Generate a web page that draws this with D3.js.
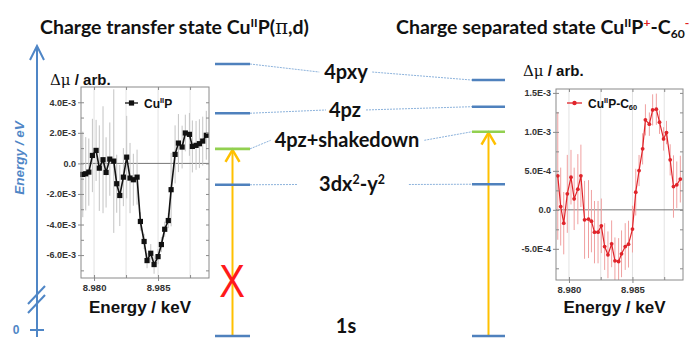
<html>
<head>
<meta charset="utf-8">
<script src="https://d3js.org/d3.v7.min.js"></script>
<style>
  body { margin: 0; background: #fff; }
  svg { display: block; }
  .tick-lab { font-family: "Liberation Sans", Arial, sans-serif; font-size: 9px; font-weight: bold; fill: #333; }
  .ttl { font-family: Lato, "Open Sans", sans-serif; font-weight: 700; fill: #111; }
  .lvl { font-family: Lato, "Open Sans", sans-serif; font-weight: 700; fill: #111; }
  .arial { font-family: "Liberation Sans", Arial, sans-serif; font-weight: bold; fill: #111; }
</style>
</head>
<body>
<script>

// ---- data ----
var energy = [8.97912, 8.97935, 8.97959, 8.97987, 8.98016, 8.98041, 8.98070, 8.98094, 8.98123, 8.98154,
              8.98177, 8.98201, 8.98229, 8.98255, 8.98281, 8.98307, 8.98336, 8.98362, 8.98391, 8.98414,
              8.98443, 8.98469, 8.98500, 8.98526, 8.98552, 8.98580, 8.98602, 8.98633, 8.98659, 8.98688,
              8.98713, 8.98745, 8.98768, 8.98797, 8.98823, 8.98849, 8.98877];

// Cu(II)P, units of 1e-3
var cuP = [-0.72, -0.68, -0.57, 0.52, 0.85, -0.31, 0.24, -0.59, 0.28, 0.15,
           -1.33, -2.10, -0.90, 0.41, -0.96, -1.07, -0.90, -3.80, -5.11, -6.36,
           -5.88, -6.62, -6.10, -5.31, -4.31, -3.74, -1.72, 0.59, 1.33, 1.07,
           1.99, 1.90, 1.11, 1.18, 1.29, 1.46, 1.84];
var cuPErr = [2.8, 2.4, 2.2, 2.4, 2.0, 2.8, 3.5, 2.3, 2.4, 4.7,
              1.9, 2.0, 1.9, 2.7, 2.3, 1.7, 1.8, 0.6, 0.5, 0.5,
              0.6, 0.6, 0.5, 0.5, 0.5, 0.5, 2.4, 1.9, 1.9, 1.4,
              1.2, 1.4, 1.7, 1.6, 1.6, 1.6, 1.6];

// Cu(II)P-C60, units of 1e-4
var cuPC60 = [4.36, 0.42, -1.71, 2.05, 4.19, 1.41, 2.65, 4.36, -1.28, -1.19,
              -1.45, -2.86, -2.86, -2.05, -4.71, -5.77, -4.36, -6.54, -6.63, -5.64,
              -4.71, -4.40, -2.47, 2.27, 5.04, 7.82, 11.54, 10.99, 12.82, 12.91,
              11.24, 9.10, 9.91, 6.41, 2.99, 3.21, 3.94];
var cuPC60Err = [8.2, 5, 4, 5, 3.5, 4, 4.5, 4, 5, 5,
                 4, 4, 4, 3.5, 3, 3, 3, 3, 3, 3,
                 3, 3, 3, 3, 2, 2, 2, 1.5, 2, 2,
                 1.5, 1.5, 1.5, 2, 4, 3, 3];

var xTicks = [8.980, 8.985];
var xTickLabels = ["8.980", "8.985"];
var xGrid = [8.980, 8.9825, 8.985, 8.9875];

var yTicksL = [-6e-3, -4e-3, -2e-3, 0, 2e-3, 4e-3];
var yTickLabelsL = ["-6.0E-3", "-4.0E-3", "-2.0E-3", "0.0", "2.0E-3", "4.0E-3"];
var yTicksR = [-5e-4, 0, 5e-4, 1e-3, 1.5e-3];
var yTickLabelsR = ["-5.0E-4", "0.0", "5.0E-4", "1.0E-3", "1.5E-3"];

// energy level diagram (arbitrary units, 1s = 0)
var levelNames = ["4pxy", "4pz", "4pz+shakedown", "3dx2-y2", "1s"];
var levelCT = [100, 81.9, 68.8, 55.6, 0];   // charge transfer state
var levelCS = [94.1, 84.3, 75.1, 55.8, 0];  // charge separated state
var levelColor = ["#4f81bd", "#4f81bd", "#92d050", "#4f81bd", "#4f81bd"];

// ---- drawing ----
var W = 692, H = 338;
var svg = d3.select("body").append("svg").attr("width", W).attr("height", H);

function rich(sel, parts, size) {
  parts.forEach(function(p) {
    var t = sel.append("tspan").text(p.t);
    if (p.sup) t.attr("font-size", size * 0.62).attr("dy", -size * 0.38);
    else if (p.sub) t.attr("font-size", size * 0.62).attr("dy", size * 0.2);
    if (p.after) t.attr("dy", p.after);
    if (p.fill) t.attr("fill", p.fill);
    if (p.font) t.attr("font-family", p.font).attr("font-weight", p.weight || "bold");
  });
}

// titles
var fs = 19.5;
var t1 = svg.append("text").attr("class", "ttl").attr("x", 40).attr("y", 34).attr("font-size", fs);
rich(t1, [{t: "Charge transfer state Cu"}, {t: "II", sup: true}, {t: "P(", after: fs * 0.38},
          {t: "\u03c0", font: "DejaVu Serif", weight: "normal"}, {t: ",d)"}], fs);
var t2 = svg.append("text").attr("class", "ttl").attr("x", 396).attr("y", 34).attr("font-size", fs);
rich(t2, [{t: "Charge separated state Cu"}, {t: "II", sup: true}, {t: "P", after: fs * 0.38},
          {t: "+", sup: true, fill: "#e02020"}, {t: "-C", after: fs * 0.38}, {t: "60", sub: true},
          {t: "-", sup: true, fill: "#e02020", after: -fs * 0.58}], fs);

// ---- energy axis on the far left ----
var axisBlue = "#4f86c6";
var ax = svg.append("g").attr("stroke", axisBlue).attr("stroke-width", 2).attr("fill", "none");
ax.append("line").attr("x1", 37).attr("x2", 37).attr("y1", 46).attr("y2", 337);
ax.append("path").attr("d", "M30,60 L37,46 L44,60");
ax.append("line").attr("x1", 30).attr("x2", 44).attr("y1", 330).attr("y2", 330);
ax.append("line").attr("x1", 28).attr("x2", 45).attr("y1", 304).attr("y2", 286);
ax.append("line").attr("x1", 28).attr("x2", 45).attr("y1", 313).attr("y2", 295);
svg.append("text").attr("x", 16).attr("y", 334).attr("text-anchor", "middle")
  .attr("font-family", "Liberation Sans").attr("font-weight", "bold").attr("font-size", 12)
  .attr("fill", axisBlue).text("0");
svg.append("text").attr("transform", "translate(24,158) rotate(-90)").attr("text-anchor", "middle")
  .attr("font-family", "Liberation Sans").attr("font-weight", "bold").attr("font-style", "italic")
  .attr("font-size", 13.5).attr("fill", axisBlue).text("Energy / eV");

// ---- spectrum panels ----
function panel(opt) {
  var x = d3.scaleLinear().domain([8.97898, 8.98898]).range([opt.x0, opt.x1]);
  var y = d3.scaleLinear().domain(opt.yDomain).range([opt.y1, opt.y0]);
  var g = svg.append("g");

  g.selectAll(".grid").data(xGrid).enter().append("line")
    .attr("x1", d => x(d)).attr("x2", d => x(d)).attr("y1", opt.y0).attr("y2", opt.y1)
    .attr("stroke", "#e2e2e2").attr("stroke-width", 1);

  g.append("line").attr("x1", opt.x0).attr("x2", opt.x1).attr("y1", y(0)).attr("y2", y(0))
    .attr("stroke", "#777").attr("stroke-width", 1);

  // error bars
  var pts = energy.map(function(e, i) {
    return {e: e, v: opt.values[i] * opt.unit, err: opt.errs[i] * opt.unit};
  });
  g.selectAll(".eb").data(pts).enter().append("line")
    .attr("x1", d => x(d.e)).attr("x2", d => x(d.e))
    .attr("y1", d => Math.max(opt.y0, y(d.v + d.err)))
    .attr("y2", d => Math.min(opt.y1, y(d.v - d.err)))
    .attr("stroke", opt.errColor).attr("stroke-width", 1);

  g.append("path").datum(pts)
    .attr("d", d3.line().x(d => x(d.e)).y(d => y(d.v)))
    .attr("fill", "none").attr("stroke", opt.color).attr("stroke-width", opt.lineW);

  if (opt.square) {
    g.selectAll(".mk").data(pts).enter().append("rect")
      .attr("x", d => x(d.e) - 2.6).attr("y", d => y(d.v) - 2.6)
      .attr("width", 5.2).attr("height", 5.2).attr("fill", opt.color);
  } else {
    g.selectAll(".mk").data(pts).enter().append("circle")
      .attr("cx", d => x(d.e)).attr("cy", d => y(d.v)).attr("r", 1.9).attr("fill", opt.color);
  }

  // frame
  g.append("rect").attr("x", opt.x0).attr("y", opt.y0)
    .attr("width", opt.x1 - opt.x0).attr("height", opt.y1 - opt.y0)
    .attr("fill", "none").attr("stroke", "#8a8a8a").attr("stroke-width", 1);

  // axes
  var ya = d3.axisLeft(y).tickValues(opt.yTicks).tickSize(3).tickPadding(2)
    .tickFormat((d, i) => opt.yLabels[i]);
  g.append("g").attr("transform", "translate(" + opt.x0 + ",0)").call(ya);
  g.append("g").attr("transform", "translate(" + opt.x0 + ",0)")
    .call(d3.axisRight(y).tickValues(opt.yMinor).tickSize(3).tickFormat(""));
  g.append("g").attr("transform", "translate(" + opt.x1 + ",0)")
    .call(d3.axisLeft(y).tickValues(opt.yMinor).tickSize(3).tickFormat(""));

  var xa = d3.axisBottom(x).tickValues(xTicks).tickSize(3).tickPadding(3)
    .tickFormat((d, i) => xTickLabels[i]);
  var gx = g.append("g").attr("transform", "translate(0," + opt.y1 + ")").call(xa);
  g.append("g").attr("transform", "translate(0," + opt.y1 + ")")
    .call(d3.axisTop(x).tickValues(xGrid).tickSize(3).tickFormat(""));
  g.append("g").attr("transform", "translate(0," + opt.y0 + ")")
    .call(d3.axisBottom(x).tickValues(xGrid).tickSize(3).tickFormat(""));

  g.selectAll(".domain").remove();
  g.selectAll(".tick line").attr("stroke", "#8a8a8a");
  g.selectAll(".tick text").attr("class", "tick-lab").attr("font-size", null).attr("font-family", null).attr("fill", null);
  gx.selectAll(".tick text").style("font-size", "9.5px");

  // legend
  var lx = opt.legX, ly = 103;
  g.append("line").attr("x1", lx).attr("x2", lx + opt.legW).attr("y1", ly).attr("y2", ly)
    .attr("stroke", opt.color).attr("stroke-width", 1.3);
  if (opt.square) {
    g.append("rect").attr("x", lx + opt.legW / 2 - 2.6).attr("y", ly - 2.6).attr("width", 5.2).attr("height", 5.2).attr("fill", opt.color);
  } else {
    g.append("circle").attr("cx", lx + opt.legW / 2).attr("cy", ly).attr("r", 2.2).attr("fill", opt.color);
  }
  var lt = g.append("text").attr("class", "arial").attr("x", lx + opt.legW + 6).attr("y", ly + 4.5).attr("font-size", 12);
  rich(lt, opt.legend, 12);

  // Δμ label and x title
  var dm = svg.append("text").attr("x", opt.dmX).attr("y", opt.dmY).attr("font-size", 15)
    .attr("font-family", "Liberation Sans").attr("fill", "#111");
  dm.append("tspan").attr("font-family", "DejaVu Serif").text("\u0394\u03bc");
  dm.append("tspan").attr("font-weight", "bold").text("  / arb.");
  svg.append("text").attr("class", "arial").attr("x", (opt.x0 + opt.x1) / 2 - 5).attr("y", 313)
    .attr("text-anchor", "middle").attr("font-size", 17).text("Energy / keV");
}

panel({
  x0: 81, x1: 209, y0: 87, y1: 278, yDomain: [-7.5e-3, 5.0e-3],
  values: cuP, errs: cuPErr, unit: 1e-3,
  yTicks: yTicksL, yLabels: yTickLabelsL, yMinor: d3.range(-7e-3, 5e-3, 1e-3),
  color: "#111", errColor: "#c4c4c4", lineW: 1.6, square: true,
  legX: 125, legW: 13, legend: [{t: "Cu"}, {t: "II", sup: true}, {t: "P", after: 12 * 0.38}],
  dmX: 50, dmY: 85
});

panel({
  x0: 556, x1: 683, y0: 89, y1: 280, yDomain: [-9e-4, 1.55e-3],
  values: cuPC60, errs: cuPC60Err, unit: 1e-4,
  yTicks: yTicksR, yLabels: yTickLabelsR, yMinor: d3.range(-7.5e-4, 1.55e-3, 2.5e-4),
  color: "#e0242a", errColor: "#f0a0a0", lineW: 1.2, square: false,
  legX: 567, legW: 15, legend: [{t: "Cu"}, {t: "II", sup: true}, {t: "P-C", after: 12 * 0.38}, {t: "60", sub: true}],
  dmX: 523, dmY: 76
});

// ---- level diagram ----
var yLvl = d3.scaleLinear().domain([0, 100]).range([336, 64]);
var colCT = [215, 250], colCS = [472, 505];
var labelX = [346, 345, 347, 352, 346];
var gapL = [5, 3, 4, 22, 0], gapR = [4, 5, 5, 24, 0];

var lv = svg.append("g");
levelNames.forEach(function(name, i) {
  var yl = yLvl(levelCT[i]), yr = yLvl(levelCS[i]);
  var mid = (yl + yr) / 2;
  var txt = lv.append("text").attr("class", "lvl").attr("x", labelX[i]).attr("font-size", 20)
    .attr("text-anchor", "middle");
  if (name === "3dx2-y2") {
    rich(txt, [{t: "3dx"}, {t: "2", sup: true}, {t: "-y", after: 20 * 0.38}, {t: "2", sup: true}], 20);
  } else {
    txt.text(name);
  }
  if (i === levelNames.length - 1) {
    txt.attr("y", 333);
  } else {
    txt.attr("y", mid + 7);
    var bb = txt.node().getBBox();
    lv.append("line").attr("x1", colCT[1]).attr("y1", yl).attr("x2", bb.x - gapL[i]).attr("y2", mid)
      .attr("stroke", "#8db3dc").attr("stroke-width", 1).attr("stroke-dasharray", "2,1");
    lv.append("line").attr("x1", bb.x + bb.width + gapR[i]).attr("y1", mid).attr("x2", colCS[0]).attr("y2", yr)
      .attr("stroke", "#8db3dc").attr("stroke-width", 1).attr("stroke-dasharray", "2,1");
  }
});

// excitation arrows (1s -> 4pz+shakedown)
var arrowColor = "#ffc000";
[[colCT, levelCT], [colCS, levelCS]].forEach(function(c) {
  var cx = (c[0][0] + c[0][1]) / 2;
  var top = yLvl(c[1][2]) + 1;
  lv.append("line").attr("x1", cx).attr("x2", cx).attr("y1", yLvl(0)).attr("y2", top)
    .attr("stroke", arrowColor).attr("stroke-width", 2);
  lv.append("path").attr("d", "M" + (cx - 7) + "," + (top + 12) + " L" + cx + "," + top + " L" + (cx + 7) + "," + (top + 12))
    .attr("fill", "none").attr("stroke", arrowColor).attr("stroke-width", 2.5);
});

// level lines
levelNames.forEach(function(name, i) {
  [[colCT, levelCT], [colCS, levelCS]].forEach(function(c) {
    lv.append("line").attr("x1", c[0][0]).attr("x2", c[0][1])
      .attr("y1", yLvl(c[1][i])).attr("y2", yLvl(c[1][i]))
      .attr("stroke", levelColor[i]).attr("stroke-width", 2.6);
  });
});

// forbidden transition mark
svg.append("text").attr("x", 232).attr("y", 297).attr("text-anchor", "middle")
  .attr("font-family", "Liberation Sans").attr("font-size", 47).attr("fill", "#ff1a1a")
  .attr("transform", "translate(232,0) scale(0.82,1) translate(-232,0)")
  .text("X");

</script>
</body>
</html>
